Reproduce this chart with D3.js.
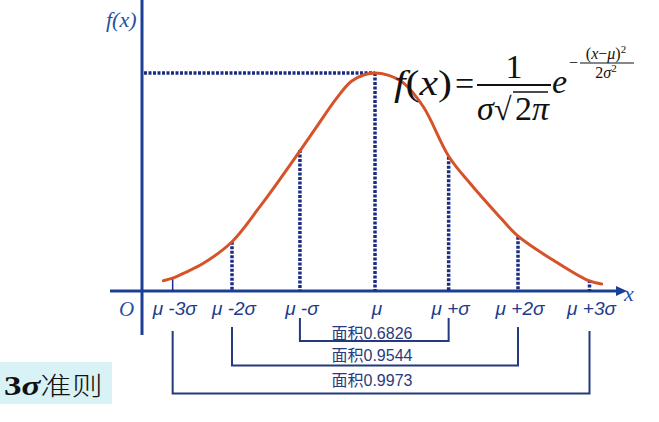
<!DOCTYPE html>
<html>
<head>
<meta charset="utf-8">
<script src="https://cdn.jsdelivr.net/npm/d3@7"></script>
<style>
  body { margin: 0; background: #fff; }
  svg { display: block; }
</style>
</head>
<body>
<div id="chart"></div>
<script>
// curve, x in sigma units from mu, y relative to the peak
var curveX = [-2.96, -2.82, -2.68, -2.40, -2.00, -1.61, -1.37, -1.04, -0.815, -0.536, -0.33, -0.15, 0,
              0.18, 0.396, 0.676, 1.035, 1.329, 1.70, 2.01, 2.49, 2.97, 3.17];
var curveY = [0.047, 0.060, 0.081, 0.127, 0.226, 0.387, 0.494, 0.647, 0.754, 0.885, 0.962, 0.992, 1.0,
              0.990, 0.955, 0.845, 0.616, 0.494, 0.356, 0.249, 0.142, 0.050, 0.032];

// marked points under the curve
var markX = [-2.83, -2.0, -1.05, 0, 1.03, 2.0, 3.0];
var markY = [0.06, 0.226, 0.647, 1.0, 0.616, 0.249, 0.05];
var markLabels = ["μ -3σ", "μ -2σ", "μ -σ", "μ", "μ +σ", "μ +2σ", "μ +3σ"];

// area brackets: index of left mark, right mark, label
var bracketLeft = [2, 1, 0];
var bracketRight = [4, 5, 6];
var bracketLabels = ["面积0.6826", "面积0.9544", "面积0.9973"];

var svgWidth = 659, svgHeight = 422;
var blue = "#1c3f96", navy = "#1a2d82";

var svg = d3.select("#chart").append("svg")
  .attr("width", svgWidth)
  .attr("height", svgHeight);

var xScale = d3.scaleLinear().domain([-3, 3]).range([160.5, 589.5]);
var yScale = d3.scaleLinear().domain([0, 1]).range([291, 73]);

// axes
svg.append("line")
  .attr("x1", 142).attr("x2", 142)
  .attr("y1", 0).attr("y2", 335)
  .attr("stroke", blue).attr("stroke-width", 3);

svg.append("line")
  .attr("x1", 110).attr("x2", 620)
  .attr("y1", yScale(0)).attr("y2", yScale(0))
  .attr("stroke", blue).attr("stroke-width", 3);

svg.append("path")
  .attr("d", "M616,286 L627,291 L616,296 Z")
  .attr("fill", blue);

svg.append("text")
  .attr("x", 106).attr("y", 27)
  .style("font-family", "Liberation Serif")
  .style("font-style", "italic")
  .style("font-size", "22px")
  .attr("fill", "#2a4ea0")
  .text("f(x)");

svg.append("text")
  .attr("x", 624).attr("y", 301)
  .style("font-family", "Liberation Serif")
  .style("font-style", "italic")
  .style("font-size", "22px")
  .attr("fill", "#2a4ea0")
  .text("x");

svg.append("text")
  .attr("x", 119).attr("y", 316)
  .style("font-family", "Liberation Serif")
  .style("font-style", "italic")
  .style("font-size", "21px")
  .attr("fill", "#2a4ea0")
  .text("O");

// dotted line from the peak to the y axis
svg.append("line")
  .attr("x1", 144).attr("x2", xScale(0))
  .attr("y1", yScale(1)).attr("y2", yScale(1))
  .attr("stroke", navy).attr("stroke-width", 3.5)
  .attr("stroke-dasharray", "3,1.5");

// vertical marks
svg.selectAll(".mark")
  .data(markX)
  .enter()
  .append("line")
    .attr("class", "mark")
    .attr("x1", d => xScale(d)).attr("x2", d => xScale(d))
    .attr("y1", (d, i) => yScale(markY[i]))
    .attr("y2", yScale(0))
    .attr("stroke", navy)
    .attr("stroke-width", (d, i) => i == 0 ? 1.5 : 3.5)
    .attr("stroke-dasharray", (d, i) => i == 0 ? null : "3,1.5");

// the curve
var line = d3.line()
  .x(d => xScale(d[0]))
  .y(d => yScale(d[1]))
  .curve(d3.curveCatmullRom.alpha(0.5));

svg.append("path")
  .datum(curveX.map((d, i) => [d, curveY[i]]))
  .attr("d", line)
  .attr("fill", "none")
  .attr("stroke", "#d6532a")
  .attr("stroke-width", 3)
  .attr("stroke-linecap", "round");

// tick labels
svg.selectAll(".ticklabel")
  .data(markLabels)
  .enter()
  .append("text")
    .attr("class", "ticklabel")
    .attr("x", (d, i) => xScale(markX[i]) + 2)
    .attr("y", 315)
    .attr("text-anchor", "middle")
    .style("font-family", "Liberation Sans")
    .style("font-style", "italic")
    .style("font-size", "19px")
    .attr("fill", "#1d3a8c")
    .text(d => d);

// brackets
var bracketTop = [318, 327, 331];
var bracketBottom = [341, 365.5, 393.5];
var labelBase = [339, 361, 386];
bracketLabels.forEach(function(lab, i) {
  var x1 = xScale(markX[bracketLeft[i]]);
  var x2 = xScale(markX[bracketRight[i]]);
  svg.append("path")
    .attr("d", `M${x1},${bracketTop[i]} V${bracketBottom[i]} H${x2} V${bracketTop[i]}`)
    .attr("fill", "none")
    .attr("stroke", "#24397e")
    .attr("stroke-width", 2);
  svg.append("text")
    .attr("x", 372)
    .attr("y", labelBase[i])
    .attr("text-anchor", "middle")
    .style("font-family", "'Liberation Sans', 'Noto Sans CJK SC'")
    .style("font-size", "16px")
    .attr("fill", "#2a3a7c")
    .text(lab);
});

// formula
var formula = svg.append("g")
  .style("font-family", "Liberation Serif")
  .attr("fill", "#111");

var fx = formula.append("text")
  .attr("x", 394).attr("y", 95)
  .attr("textLength", 58)
  .attr("lengthAdjust", "spacingAndGlyphs")
  .style("font-size", "35px");
fx.append("tspan").style("font-style", "italic").text("f");
fx.append("tspan").text("(");
fx.append("tspan").style("font-style", "italic").text("x");
fx.append("tspan").text(")");

formula.append("text")
  .attr("x", 455).attr("y", 95)
  .style("font-size", "34px")
  .text("=");

formula.append("text")
  .attr("x", 514).attr("y", 78)
  .attr("text-anchor", "middle")
  .style("font-size", "34px")
  .text("1");

formula.append("line")
  .attr("x1", 477).attr("x2", 551)
  .attr("y1", 85).attr("y2", 85)
  .attr("stroke", "#111").attr("stroke-width", 2);

formula.append("text")
  .attr("x", 477).attr("y", 120)
  .style("font-size", "34px")
  .style("font-style", "italic")
  .text("σ");

formula.append("text")
  .attr("x", 494).attr("y", 120)
  .style("font-size", "32px")
  .text("√");

formula.append("line")
  .attr("x1", 513).attr("x2", 548)
  .attr("y1", 92).attr("y2", 92)
  .attr("stroke", "#111").attr("stroke-width", 1.5);

var root = formula.append("text")
  .attr("x", 515).attr("y", 120)
  .style("font-size", "34px");
root.append("tspan").text("2");
root.append("tspan").style("font-style", "italic").text("π");

formula.append("text")
  .attr("x", 552).attr("y", 93)
  .style("font-size", "34px")
  .style("font-style", "italic")
  .text("e");

formula.append("text")
  .attr("x", 569).attr("y", 68)
  .style("font-size", "16px")
  .text("−");

formula.append("line")
  .attr("x1", 580).attr("x2", 634)
  .attr("y1", 63).attr("y2", 63)
  .attr("stroke", "#111").attr("stroke-width", 1);

var num = formula.append("text")
  .attr("x", 606).attr("y", 59)
  .attr("text-anchor", "middle")
  .style("font-size", "16px");
num.append("tspan").text("(");
num.append("tspan").style("font-style", "italic").text("x");
num.append("tspan").text("−");
num.append("tspan").style("font-style", "italic").text("μ");
num.append("tspan").text(")");
num.append("tspan").attr("dy", -6).style("font-size", "11px").text("2");

var den = formula.append("text")
  .attr("x", 606).attr("y", 78)
  .attr("text-anchor", "middle")
  .style("font-size", "16px");
den.append("tspan").text("2");
den.append("tspan").style("font-style", "italic").text("σ");
den.append("tspan").attr("dy", -6).style("font-size", "11px").text("2");

// 3 sigma rule box (the slide text is stretched sideways)
svg.append("rect")
  .attr("x", 0).attr("y", 362)
  .attr("width", 112).attr("height", 42)
  .attr("fill", "#d8f2f6");

var rule = svg.append("text")
  .attr("transform", "translate(4,395) scale(1.25,1)")
  .attr("fill", "#111");
rule.append("tspan")
  .style("font-family", "Liberation Serif")
  .style("font-weight", "bold")
  .style("font-size", "28px")
  .text("3");
rule.append("tspan")
  .style("font-family", "Liberation Serif")
  .style("font-weight", "bold")
  .style("font-style", "italic")
  .style("font-size", "28px")
  .text("σ");
rule.append("tspan")
  .style("font-family", "'Noto Sans CJK SC'")
  .style("font-weight", "300")
  .style("font-size", "25px")
  .text("准则");
</script>
</body>
</html>
